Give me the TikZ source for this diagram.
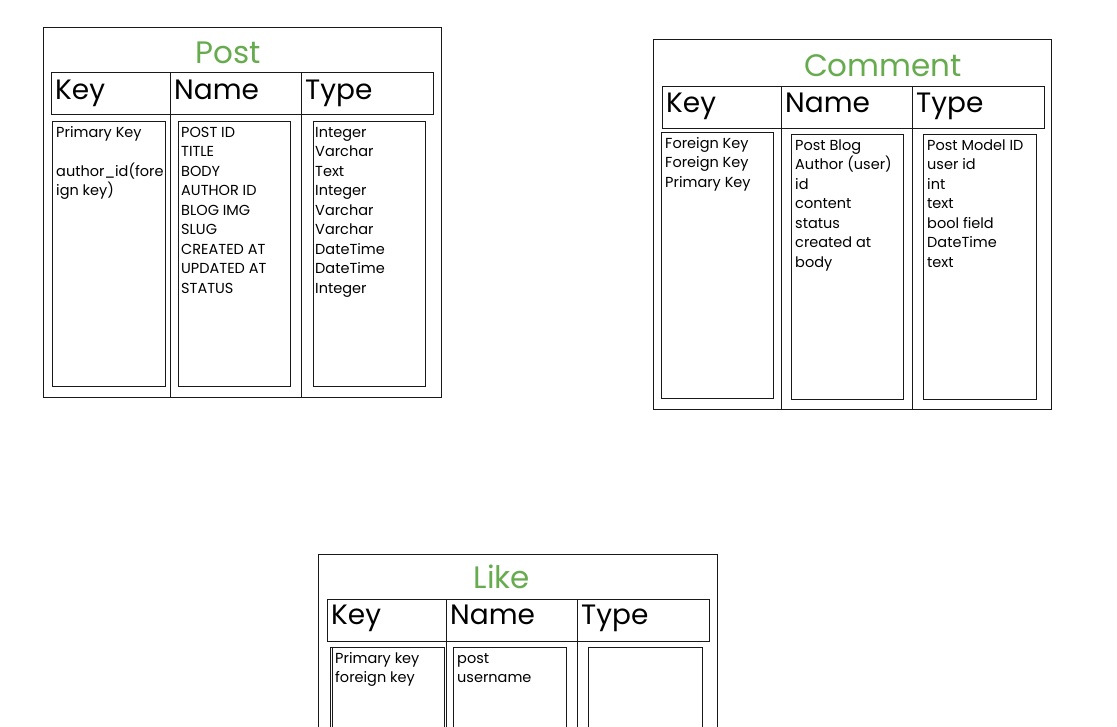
\documentclass[tikz,border=0pt]{standalone}
\usepackage{fontspec}
\setmainfont{Poppins}
\definecolor{titlegreen}{HTML}{67AB4F}
\tikzset{
	sketch/.style={line width=0.9pt, draw=black!90},
	tabletitle/.style={anchor=base, text=titlegreen, inner sep=0pt, font=\fontsize{31}{31}\selectfont},
	colhead/.style={anchor=base west, inner sep=0pt, font=\fontsize{28}{28}\selectfont},
	entry/.style={anchor=base west, align=left, inner sep=0pt, font=\fontsize{14.5}{19.5}\selectfont},
}

\begin{document}
\begin{tikzpicture}[x=1pt, y=-1pt]
			%%%%% START %%%%%
			\useasboundingbox (0, 0) rectangle (1117, 726);
			\clip (0, 0) rectangle (1117, 726);
			
			%%%%% POST %%%%%
			\draw[sketch] (43, 27) rectangle (441, 397);
			\node[tabletitle] (posttitle) at (228, 63) {Post};
			
			\draw[sketch] (51, 72) rectangle (170, 114);
			\draw[sketch] (170, 72) rectangle (301, 114);
			\draw[sketch] (301, 72) rectangle (433, 114);
			\node[colhead] (postkey) at (55, 99) {Key};
			\node[colhead] (postname) at (174, 99) {Name};
			\node[colhead] (posttype) at (305, 99) {Type};
			
			\draw[sketch] (170, 114) -- (170, 397);
			\draw[sketch] (301, 114) -- (301, 397);
			
			\draw[sketch] (52, 121) rectangle (165, 386);
			\draw[sketch] (178, 121) rectangle (290, 386);
			\draw[sketch] (313, 121) rectangle (425, 386);
			
			% base = baseline of the last line
			\node[entry] (postkeys) at (56, 195.5) {Primary Key\\ \\author\_id(fore\\ign key)};
			\node[entry] (postnames) at (181, 293) {POST ID\\TITLE\\BODY\\AUTHOR ID\\BLOG IMG\\SLUG\\CREATED AT\\UPDATED AT\\STATUS};
			\node[entry] (posttypes) at (315, 293) {Integer\\Varchar\\Text\\Integer\\Varchar\\Varchar\\DateTime\\DateTime\\Integer};
			
			%%%%% COMMENT %%%%%
			\draw[sketch] (653, 39) rectangle (1051, 409);
			\node[tabletitle] (commenttitle) at (883, 76) {Comment};
			
			\draw[sketch] (662, 86) rectangle (781, 128);
			\draw[sketch] (781, 86) rectangle (912, 128);
			\draw[sketch] (912, 86) rectangle (1044, 128);
			\node[colhead] (commentkey) at (666, 112) {Key};
			\node[colhead] (commentname) at (785, 112) {Name};
			\node[colhead] (commenttype) at (916, 112) {Type};
			
			\draw[sketch] (781, 128) -- (781, 409);
			\draw[sketch] (912, 128) -- (912, 409);
			
			\draw[sketch] (661, 132) rectangle (773, 398);
			\draw[sketch] (791, 134) rectangle (903, 399);
			\draw[sketch] (923, 134) rectangle (1036, 399);
			
			\node[entry] (commentkeys) at (665, 187) {Foreign Key\\Foreign Key\\Primary Key};
			\node[entry] (commentnames) at (795, 267) {Post Blog\\Author (user)\\id\\content\\status\\created at\\body};
			\node[entry] (commenttypes) at (927, 267) {Post Model ID\\user id\\int\\text\\bool field\\DateTime\\text};
			
			%%%%% LIKE %%%%%
			\draw[sketch] (318, 554) rectangle (717, 760);
			\node[tabletitle] (liketitle) at (502, 588) {Like};
			
			\draw[sketch] (327, 599) rectangle (446, 641);
			\draw[sketch] (446, 599) rectangle (577, 641);
			\draw[sketch] (577, 599) rectangle (709, 641);
			\node[colhead] (likekey) at (331, 624) {Key};
			\node[colhead] (likename) at (450, 624) {Name};
			\node[colhead] (liketype) at (581, 624) {Type};
			
			\draw[sketch] (446, 641) -- (446, 760);
			\draw[sketch] (577, 641) -- (577, 760);
			
			\draw[sketch] (330, 647) rectangle (444, 760);
			\draw[sketch] (332.5, 648) -- (332.5, 760);
			\draw[sketch] (453, 647) rectangle (566, 760);
			\draw[sketch] (588, 647) rectangle (702, 760);
			
			\node[entry] (likekeys) at (335, 682.5) {Primary key\\foreign key};
			\node[entry] (likenames) at (457, 682.5) {post\\username};
			
			%%%%% END %%%%%
\end{tikzpicture}
\end{document}
